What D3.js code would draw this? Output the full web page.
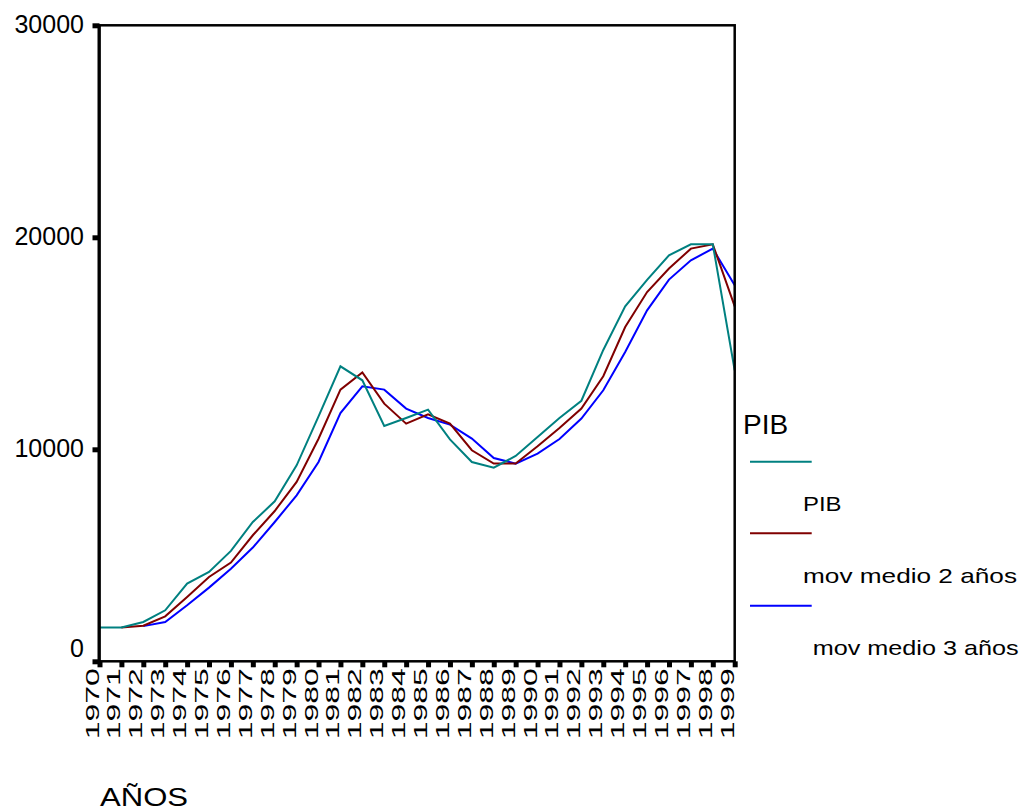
<!DOCTYPE html>
<html>
<head>
<meta charset="utf-8">
<script src="https://cdn.jsdelivr.net/npm/d3@7"></script>
<style>
  html, body { margin: 0; padding: 0; background: #fff; }
  svg { display: block; font-family: "Liberation Sans", Arial, sans-serif; }
</style>
</head>
<body>
<svg id="chart" width="1024" height="811"></svg>
<script>
const years = [1970,1971,1972,1973,1974,1975,1976,1977,1978,1979,1980,1981,1982,1983,1984,1985,1986,1987,1988,1989,1990,1991,1992,1993,1994,1995,1996,1997,1998,1999];
const pib = [1590,1590,1855,2405,3665,4215,5205,6570,7545,9245,11550,13915,13255,11100,11475,11870,10470,9400,9135,9685,10580,11475,12290,14685,16745,17990,19150,19670,19670,13725];
const mov2 = [null,1590,1680,2120,3035,3975,4655,5945,7090,8460,10500,12815,13630,12155,11210,11650,11210,9955,9325,9325,10140,11005,11920,13445,15770,17420,18525,19465,19670,16745];
const mov3 = [null,null,1660,1855,2640,3475,4370,5365,6570,7830,9400,11710,12970,12815,11920,11475,11165,10505,9590,9325,9800,10485,11450,12785,14590,16555,18005,18915,19465,17735];
const yTicks = [0,10000,20000,30000];
const seriesNames = ["PIB","mov medio 2 años","mov medio 3 años"];
const seriesColors = ["#008080","#800000","#0000ff"];
const legendTitle = "PIB";
const xTitle = "AÑOS";

const svg = d3.select("#chart");
const L = 99.5, R = 734.7, T = 25.3, B = 661.3;

const x = d3.scaleLinear().domain([1970,1999]).range([L,R]);
const y = d3.scaleLinear().domain([0,30000]).range([B,T]);

// lines (teal on top)
const series = [pib, mov2, mov3];
const order = [2,1,0];
const line = d3.line()
  .defined(d => d.v !== null)
  .x(d => x(d.year)).y(d => y(d.v));
order.forEach(i => {
  const data = years.map((yr, k) => ({year: yr, v: series[i][k]}));
  svg.append("path")
    .datum(data)
    .attr("d", line)
    .attr("fill","none")
    .attr("stroke", seriesColors[i])
    .attr("stroke-width", 2)
    .attr("stroke-linejoin","miter");
});

// frame
svg.append("rect")
  .attr("x", L).attr("y", T).attr("width", R-L).attr("height", B-T)
  .attr("fill","none").attr("stroke","#000").attr("stroke-width",2.5);
svg.append("line").attr("x1",L-0.5).attr("x2",L-0.5).attr("y1",T).attr("y2",B+1)
  .attr("stroke","#000").attr("stroke-width",3);

// y axis
const yAxis = svg.append("g").attr("transform",`translate(${L},0)`)
  .call(d3.axisLeft(y).tickValues(yTicks).tickSize(7).tickFormat(d3.format("d")));
yAxis.select(".domain").remove();
yAxis.selectAll(".tick line").attr("stroke","#000").attr("stroke-width",5);
yAxis.selectAll(".tick text")
  .attr("x", -15.5)
  .attr("dy", d => d === 0 ? "-0.2em" : "0.3em")
  .style("font-size","25px")
  .style("font-family","'Liberation Sans', Arial, sans-serif")
  .attr("fill","#000");

// x axis
const xAxis = svg.append("g").attr("transform",`translate(0,${B})`)
  .call(d3.axisBottom(x).tickValues(years).tickSize(6).tickFormat(d3.format("d")));
xAxis.select(".domain").remove();
xAxis.selectAll(".tick line").attr("stroke","#000").attr("stroke-width",5);
xAxis.selectAll(".tick text")
  .attr("transform","rotate(-90)")
  .attr("x", -7)
  .attr("y", -1.5)
  .attr("dy", 0)
  .attr("text-anchor","end")
  .attr("textLength", 71)
  .attr("lengthAdjust","spacingAndGlyphs")
  .style("font-size","19px")
  .style("font-family","'Liberation Sans', Arial, sans-serif")
  .attr("fill","#000");

// x title
svg.append("text").attr("x",100).attr("y",806)
  .attr("textLength",88).attr("lengthAdjust","spacingAndGlyphs")
  .style("font-size","26px").text(xTitle);

// legend
svg.append("text").attr("x",743).attr("y",433.5)
  .style("font-size","28px").text(legendTitle);
const legLineY = [461.7, 533.3, 605.7];
const legTextX = [803, 803, 812.7];
const legTextY = [511, 583.3, 655];
const legTextLen = [38.5, 214, 206];
seriesNames.forEach((name, i) => {
  svg.append("line")
    .attr("x1",750).attr("x2",811.7)
    .attr("y1",legLineY[i]).attr("y2",legLineY[i])
    .attr("stroke",seriesColors[i]).attr("stroke-width",2);
  svg.append("text")
    .attr("x",legTextX[i]).attr("y",legTextY[i])
    .attr("textLength",legTextLen[i]).attr("lengthAdjust","spacingAndGlyphs")
    .style("font-size","21px").text(name);
});
</script>
</body>
</html>
